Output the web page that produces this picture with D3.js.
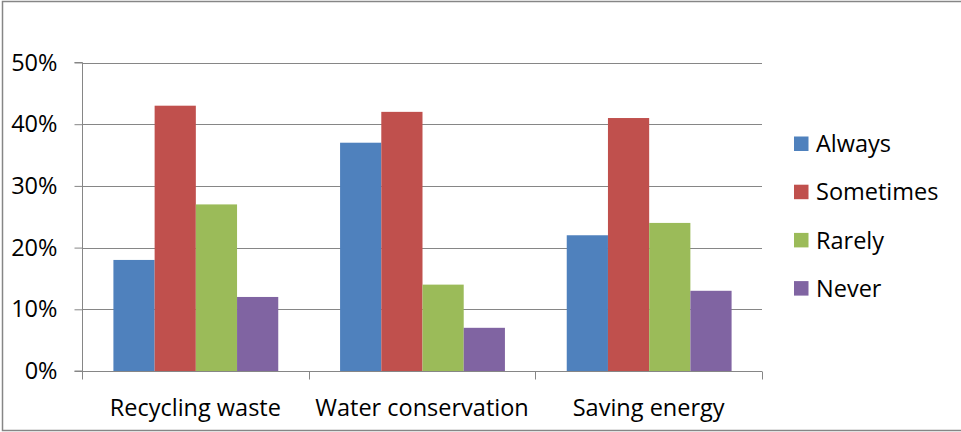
<!DOCTYPE html>
<html>
<head>
<meta charset="utf-8">
<script src="https://cdn.jsdelivr.net/npm/d3@7"></script>
<style>
  html, body { margin: 0; padding: 0; background: #fff; }
  svg { display: block; }
  text { font-family: "Open Sans", "Noto Sans", sans-serif; fill: #000; }
</style>
</head>
<body>
<svg id="chart" width="961" height="432"></svg>
<script>
// Survey: how often people do each environmental habit
const categories = ["Recycling waste", "Water conservation", "Saving energy"];
const seriesNames = ["Always", "Sometimes", "Rarely", "Never"];
const always    = [0.18, 0.37, 0.22];
const sometimes = [0.43, 0.42, 0.41];
const rarely    = [0.27, 0.14, 0.24];
const never     = [0.12, 0.07, 0.13];
const yTicks = [0, 0.1, 0.2, 0.3, 0.4, 0.5];
const colors = ["#4F81BD", "#C0504D", "#9BBB59", "#8064A2"];

const seriesValues = [always, sometimes, rarely, never];
const rows = categories.map((c, i) => ({
  category: c,
  values: seriesNames.map((s, j) => ({ series: s, value: seriesValues[j][i] }))
}));

const svg = d3.select("#chart");
const gray = "#868686";
const fontSize = 23.5;

// outer frame
svg.append("rect")
  .attr("x", 2.5).attr("y", 1.5)
  .attr("width", 980).attr("height", 429)
  .attr("fill", "none").attr("stroke", gray).attr("stroke-width", 1.5);

const plot = { left: 82, right: 762, top: 62.5, bottom: 371 };

const x = d3.scaleBand().domain(categories).range([plot.left, plot.right]).padding(0);
const xInner = d3.scaleBand().domain(seriesNames).range([0, x.bandwidth()])
  .paddingInner(0).paddingOuter(0.75);
const y = d3.scaleLinear().domain([0, 0.5]).range([plot.bottom, plot.top]);

// horizontal gridlines
svg.append("g")
  .selectAll("line").data(yTicks).join("line")
  .attr("x1", plot.left).attr("x2", plot.right)
  .attr("y1", d => Math.round(y(d)) + 0.5).attr("y2", d => Math.round(y(d)) + 0.5)
  .attr("stroke", gray).attr("stroke-width", 1);

// bars
svg.append("g")
  .selectAll("g").data(rows).join("g")
  .attr("transform", d => `translate(${x(d.category) + 0.5},0)`)
  .selectAll("rect").data(d => d.values).join("rect")
  .attr("x", d => xInner(d.series))
  .attr("width", xInner.bandwidth())
  .attr("y", d => y(d.value))
  .attr("height", d => y(0) - y(d.value))
  .attr("fill", (d, i) => colors[i]);

// y axis
const yAxis = d3.axisLeft(y).tickValues(yTicks).tickFormat(d3.format(".0%"))
  .tickSize(8).tickPadding(17);
const gy = svg.append("g").attr("transform", `translate(${plot.left + 0.5},0)`).call(yAxis);
gy.select(".domain").attr("stroke", gray).attr("d", `M-8,${plot.top}H0V${plot.bottom}H-8`);
gy.selectAll(".tick line").attr("stroke", gray);
gy.selectAll(".tick text").attr("font-size", fontSize).attr("font-family", null).attr("fill", "#000");

// x axis: ticks on category boundaries
const gx = svg.append("g").attr("transform", `translate(0,${plot.bottom + 0.5})`);
gx.append("line")
  .attr("x1", plot.left).attr("x2", plot.right)
  .attr("stroke", gray);
const boundaries = categories.map(c => x(c)).concat([plot.right]);
gx.selectAll("line.tick").data(boundaries).join("line")
  .attr("class", "tick")
  .attr("x1", d => Math.round(d) + 0.5).attr("x2", d => Math.round(d) + 0.5)
  .attr("y1", 0).attr("y2", 8)
  .attr("stroke", gray);
gx.selectAll("text").data(categories).join("text")
  .attr("x", d => x(d) + x.bandwidth() / 2)
  .attr("y", 44)
  .attr("text-anchor", "middle")
  .attr("font-size", fontSize)
  .text(d => d);

// legend
const legend = svg.append("g").attr("transform", "translate(794,144)");
const item = legend.selectAll("g").data(seriesNames).join("g")
  .attr("transform", (d, i) => `translate(0,${i * 48.2})`);
item.append("rect")
  .attr("x", 0).attr("y", -7.5).attr("width", 14.5).attr("height", 14.5)
  .attr("fill", (d, i) => colors[i]);
item.append("text")
  .attr("x", 22).attr("y", 0).attr("dy", "0.35em")
  .attr("font-size", fontSize)
  .text(d => d);
</script>
</body>
</html>
